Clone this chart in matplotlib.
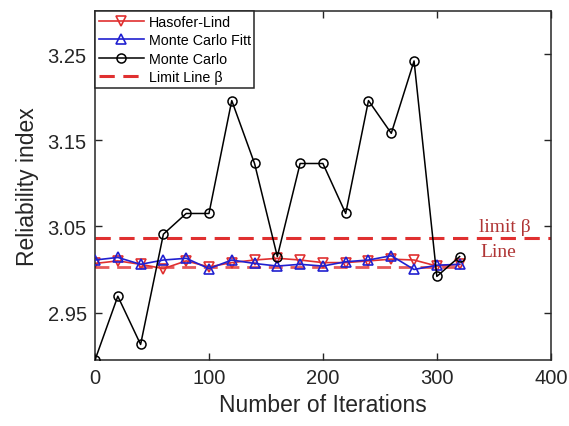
import matplotlib
matplotlib.use("Agg")
import matplotlib.pyplot as plt

iterations = [0, 20, 40, 60, 80, 100, 120, 140, 160, 180, 200, 220, 240, 260, 280, 300, 320]
hasofer_lind = [3.007, 3.010, 3.006, 3.001, 3.010, 3.003, 3.008, 3.011, 3.013, 3.011,
                3.008, 3.008, 3.010, 3.012, 3.011, 3.004, 3.006]
mc_fitt = [3.011, 3.014, 3.006, 3.011, 3.013, 3.001, 3.011, 3.007, 3.004, 3.006,
           3.004, 3.009, 3.011, 3.016, 3.000, 3.005, 3.006]
monte_carlo = [2.895, 2.969, 2.913, 3.041, 3.065, 3.065, 3.196, 3.123, 3.015, 3.123,
               3.123, 3.065, 3.196, 3.158, 3.242, 2.992, 3.015]
limit_beta = 3.036
lower_line = 3.003
lower_line_x = [0, 320]

xticks = [0, 100, 200, 300, 400]
yticks = [2.95, 3.05, 3.15, 3.25]

plt.rcParams['font.family'] = ['Liberation Sans', 'DejaVu Sans']

fig = plt.figure(figsize=(5.69, 4.27), dpi=100)
ax = fig.add_axes([0.167, 0.1546, 0.801, 0.8174])

dark = '#262626'
red = '#e03030'
ax.plot(lower_line_x, [lower_line, lower_line], color=red, lw=2, dashes=(5, 2.8), alpha=0.8, zorder=1)
ax.plot(iterations, hasofer_lind, color=red, marker='v', mfc='none', mec=red, ms=6.5, mew=1.2,
        lw=1.2, label='Hasofer-Lind', zorder=2)
ax.plot(iterations, mc_fitt, color='#2020d0', marker='^', mfc='none', mec='#2020d0', ms=6.5, mew=1.2,
        lw=1.2, label='Monte Carlo Fitt', zorder=3)
ax.plot(iterations, monte_carlo, color='black', marker='o', mfc='none', mec='black', ms=6.5, mew=1.1,
        lw=1.1, label='Monte Carlo', zorder=4)
ax.axhline(limit_beta, color=red, lw=2.2, dashes=(5, 2.8), label='Limit Line β', zorder=1)

ax.text(0.955, (limit_beta + 0.004 - 2.895) / (3.30 - 2.895), 'limit β', transform=ax.transAxes,
        ha='right', va='bottom', family=['Liberation Serif'], fontsize=14, color='#b03535')
ax.text(0.925, (limit_beta - 0.005 - 2.895) / (3.30 - 2.895), 'Line', transform=ax.transAxes,
        ha='right', va='top', family=['Liberation Serif'], fontsize=14, color='#b03535')

ax.set_xlim(0, 400)
ax.set_ylim(2.895, 3.30)
ax.set_xticks(xticks)
ax.set_yticks(yticks)
ax.set_yticklabels([f'{v:.2f}' for v in yticks])
ax.tick_params(direction='in', top=True, right=True, labelsize=14.5, length=5, width=1, pad=6,
               colors=dark)
for s in ax.spines.values():
    s.set_linewidth(1.1)
    s.set_color(dark)
ax.set_xlabel('Number of Iterations', fontsize=16.5, labelpad=4, color=dark)
ax.set_ylabel('Reliability index', fontsize=16.5, labelpad=6, color=dark)

leg = ax.legend(loc='upper left', fontsize=10.3, frameon=True, fancybox=False, edgecolor=dark,
                borderaxespad=0, labelspacing=0.32, handlelength=3.2, handletextpad=0.3,
                borderpad=0.25, framealpha=1)
leg.get_frame().set_linewidth(1.1)

fig.savefig('out.png', dpi=100)
